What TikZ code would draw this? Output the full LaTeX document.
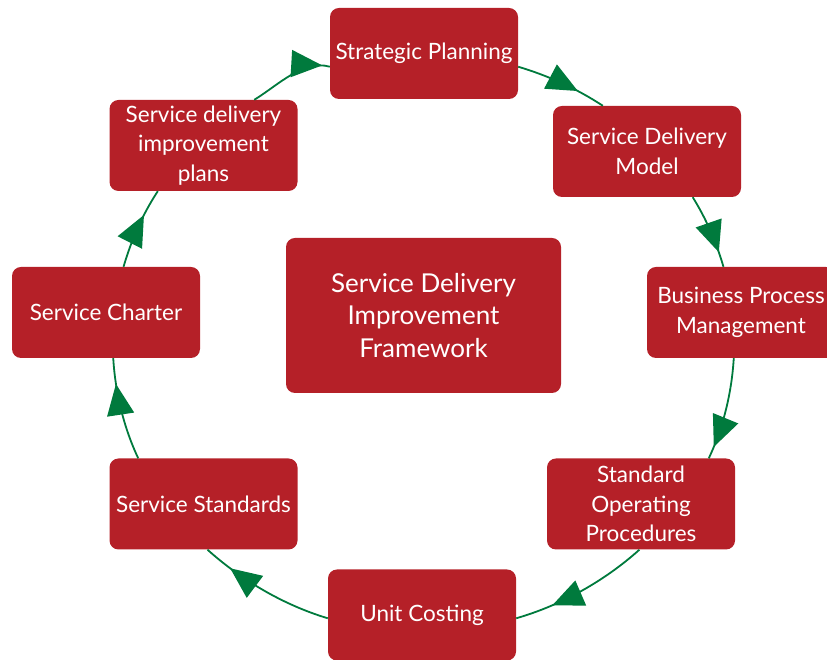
\documentclass[tikz,border=0pt]{standalone}
\usepackage{fontspec}
\setmainfont{Lato}
\usetikzlibrary{arrows.meta,decorations.markings}
\definecolor{boxred}{RGB}{181,32,40}
\definecolor{cyclegreen}{RGB}{0,122,61}
\tikzset{
  stage/.style={fill=boxred, rounded corners=9pt, minimum width=188pt,
    minimum height=91pt, inner sep=0pt, text=white, align=center,
    font=\fontsize{22.5}{29.5}\selectfont},
  hub/.style={fill=boxred, rounded corners=9pt, minimum width=275pt,
    minimum height=155pt, inner sep=0pt, text=white, align=center,
    font=\fontsize{26}{32.5}\selectfont},
  flow/.style={draw=cyclegreen, line width=1.8pt, looseness=0.85,
    postaction={decorate},
    decoration={markings, mark=at position #1 with
      {\arrow[cyclegreen]{Triangle[length=31pt,width=27pt]}}}},
}
\begin{document}
\begin{tikzpicture}[x=1pt,y=1pt]
\useasboundingbox (0,0) rectangle (827,660);
\clip (0,0) rectangle (827,660);

% the eight stages of the cycle
\node[stage] (sp)   at (424,606.5)   {Strategic Planning};
\node[stage] (sdm)  at (647,508.5)   {Service Delivery\\Model};
\node[stage] (bpm)  at (741,347.5)   {Business Process\\Management};
\node[stage] (sop)  at (641,156)     {Standard\\Operating\\Procedures};
\node[stage] (uc)   at (422,45)      {Unit Costing};
\node[stage] (ss)   at (203.5,156)   {Service Standards};
\node[stage] (sc)   at (106,347.5)   {Service Charter};
\node[stage] (sdip) at (203.5,514.5) {Service delivery\\improvement\\plans};

% framework in the middle
\node[hub] (core) at (423.5,344.5) {Service Delivery\\Improvement\\Framework};

% clockwise elliptical cycle
\draw[flow=0.69] (sp.-8)    to[out=-16.5, in=146.7] (sdm.134);
\draw[flow=0.80] (sdm.-45)  to[out=-58,   in=106.1] (bpm.111);
\draw[flow=0.88] (bpm.-99)  to[out=-93.4, in=64.7]  (sop.34);
\draw[flow=0.73] (sop.-92)  to[out=-138.1,in=16.1]  (uc.-2);
\draw[flow=0.79] (uc.182)   to[out=163.3, in=-41.9] (ss.-85);
\draw[flow=0.75] (ss.145)   to[out=115.2, in=-86.6] (sc.-81);
\draw[flow=0.67] (sc.69)    to[out=73.9,  in=-123.4](sdip.-135);
\draw[flow=0.91] (sdip.42)  to[out=31.25, in=163.7] (sp.188);
\end{tikzpicture}
\end{document}
